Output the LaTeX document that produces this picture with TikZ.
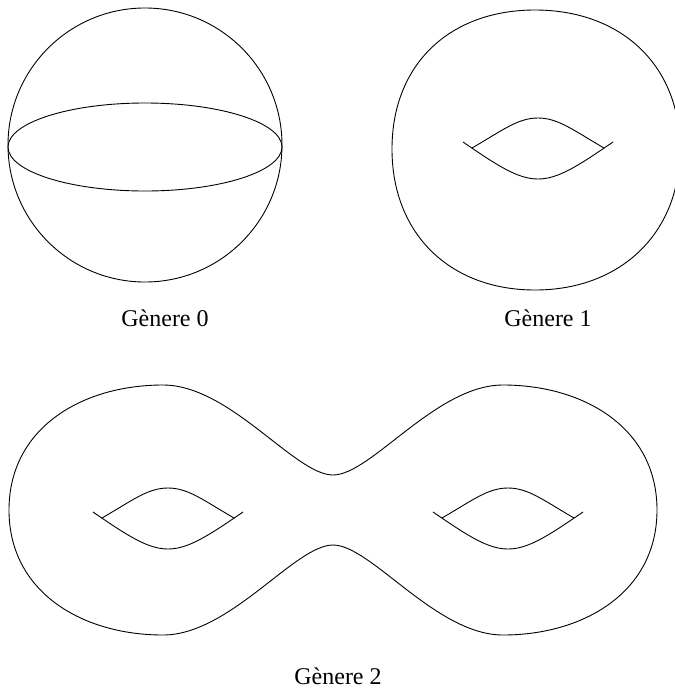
\documentclass[tikz,border=0pt]{standalone}
\usepackage{fontspec}
\setmainfont{Liberation Serif}
\tikzset{
  curve/.style={line width=0.9pt, black},
  lab/.style={font=\fontsize{24}{28}\selectfont, inner sep=0pt},
  holepic/.pic={
    \draw[curve] (-75,-6) .. controls (-40,18) and (-20,31) .. (0,31)
                          .. controls (20,31) and (40,18) .. (75,-6);
    \draw[curve] (-66,0) .. controls (-35,-18) and (-20,-30) .. (0,-30)
                         .. controls (20,-30) and (35,-18) .. (66,0);
  }
}
\begin{document}
\begin{tikzpicture}[x=1pt,y=-1pt]
\useasboundingbox (0,0) rectangle (675,697);
\clip (0,0) rectangle (675,697);
% sphere
\draw[curve] (145,145) circle[radius=137];
\draw[curve] (145,147) ellipse[x radius=137, y radius=44];
% torus
\draw[curve] (392,149) .. controls (392,64) and (450,10) .. (535,10)
  .. controls (620,10) and (680,64) .. (680,149)
  .. controls (680,234) and (620,290) .. (535,290)
  .. controls (450,290) and (392,234) .. (392,149) -- cycle;
\pic at (538,148) {holepic};
% genus 2
\draw[curve] (9,510) .. controls (9,428) and (82,385) .. (163,385)
  .. controls (230,385) and (295,475) .. (333,475)
  .. controls (371,475) and (436,385) .. (503,385)
  .. controls (584,385) and (657,428) .. (657,510)
  .. controls (657,592) and (584,635) .. (503,635)
  .. controls (436,635) and (371,545) .. (333,545)
  .. controls (295,545) and (230,635) .. (163,635)
  .. controls (82,635) and (9,592) .. (9,510) -- cycle;
\pic at (168,518) {holepic};
\pic at (508,518) {holepic};
% labels
\node[lab] (g0) at (165,318) {Gènere 0};
\node[lab] (g1) at (548,318) {Gènere 1};
\node[lab] (g2) at (338,676) {Gènere 2};
\end{tikzpicture}
\end{document}
